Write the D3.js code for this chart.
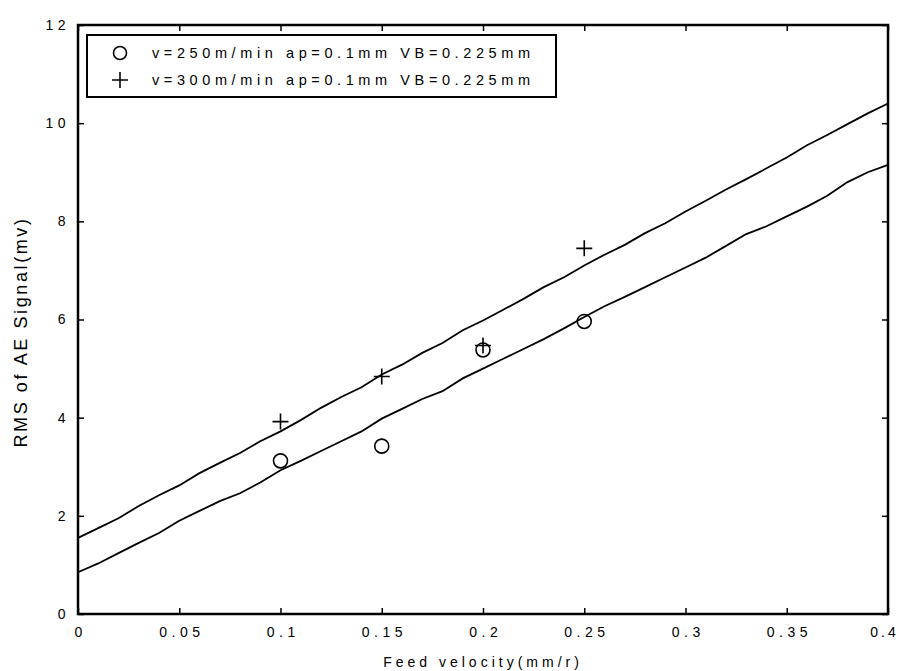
<!DOCTYPE html>
<html>
<head>
<meta charset="utf-8">
<script src="https://cdn.jsdelivr.net/npm/d3@7"></script>
<style>
  body { margin: 0; background: #fff; }
  text { font-family: "Liberation Sans", Arial, sans-serif; fill: #000; }
</style>
</head>
<body>
<div id="chart"></div>
<script>
// data
let xTicks = [0, 0.05, 0.1, 0.15, 0.2, 0.25, 0.3, 0.35, 0.4];
let xTickLabels = ["0", "0.05", "0.1", "0.15", "0.2", "0.25", "0.3", "0.35", "0.4"];
let yTicks = [0, 2, 4, 6, 8, 10, 12];

let feed = [0, 0.01, 0.02, 0.03, 0.04, 0.05, 0.06, 0.07, 0.08, 0.09, 0.1,
            0.11, 0.12, 0.13, 0.14, 0.15, 0.16, 0.17, 0.18, 0.19, 0.2,
            0.21, 0.22, 0.23, 0.24, 0.25, 0.26, 0.27, 0.28, 0.29, 0.3,
            0.31, 0.32, 0.33, 0.34, 0.35, 0.36, 0.37, 0.38, 0.39, 0.4];
let upperFit = [1.55, 1.75, 1.95, 2.2, 2.42, 2.62, 2.87, 3.08, 3.28, 3.52, 3.72,
                3.95, 4.2, 4.42, 4.62, 4.88, 5.08, 5.32, 5.52, 5.78, 5.98,
                6.2, 6.42, 6.66, 6.86, 7.1, 7.32, 7.52, 7.76, 7.96, 8.2,
                8.42, 8.65, 8.86, 9.08, 9.3, 9.55, 9.76, 9.98, 10.2, 10.4];
let lowerFit = [0.85, 1.03, 1.24, 1.45, 1.65, 1.9, 2.1, 2.3, 2.46, 2.68, 2.93,
                3.12, 3.32, 3.52, 3.72, 3.98, 4.18, 4.38, 4.54, 4.8, 5.0,
                5.2, 5.4, 5.6, 5.82, 6.05, 6.27, 6.46, 6.66, 6.86, 7.06,
                7.26, 7.5, 7.74, 7.9, 8.1, 8.3, 8.52, 8.8, 9.0, 9.15];

let pointFeed = [0.1, 0.15, 0.2, 0.25];
let rms250 = [3.12, 3.42, 5.38, 5.96];
let rms300 = [3.92, 4.84, 5.47, 7.45];

let legendLabels = ["v=250m/min ap=0.1mm VB=0.225mm", "v=300m/min ap=0.1mm VB=0.225mm"];

let W = 900, H = 671;
let mLeft = 78, mRight = 888, mTop = 25, mBottom = 614;

let svg = d3.select("#chart").append("svg")
    .attr("width", W).attr("height", H);

let x = d3.scaleLinear().domain([0, 0.4]).range([mLeft, mRight]);
let y = d3.scaleLinear().domain([0, 12]).range([mBottom, mTop]);

// axes with inward ticks
let tickLen = 6;
let fmtX = d => xTickLabels[xTicks.indexOf(d)];

let gx = svg.append("g").attr("transform", `translate(0,${mBottom})`)
    .call(d3.axisBottom(x).tickValues(xTicks).tickSizeInner(-tickLen).tickSizeOuter(0).tickPadding(13).tickFormat(fmtX));
svg.append("g").attr("transform", `translate(0,${mTop})`)
    .call(d3.axisTop(x).tickValues(xTicks).tickSizeInner(-tickLen).tickSizeOuter(0).tickFormat(""));
let gy = svg.append("g").attr("transform", `translate(${mLeft},0)`)
    .call(d3.axisLeft(y).tickValues(yTicks).tickSizeInner(-tickLen).tickSizeOuter(0).tickPadding(8));
svg.append("g").attr("transform", `translate(${mRight},0)`)
    .call(d3.axisRight(y).tickValues(yTicks).tickSizeInner(-tickLen).tickSizeOuter(0).tickFormat(""));

svg.selectAll(".domain").remove();
svg.selectAll(".tick line").attr("stroke", "#000").attr("stroke-width", 1.5);
svg.selectAll(".tick text")
    .style("font-size", "14px")
    .style("letter-spacing", "4.5px")
    .attr("fill", "#000");
// letter-spacing leaves a trailing gap; nudge labels to centre the glyphs
gx.selectAll(".tick text").attr("dx", "2.2px");
gx.selectAll(".tick text").filter(d => d === 0.4)
    .style("letter-spacing", "3px").attr("dx", "-4px");

svg.append("rect")
    .attr("x", mLeft).attr("y", mTop)
    .attr("width", mRight - mLeft).attr("height", mBottom - mTop)
    .attr("fill", "none").attr("stroke", "#000").attr("stroke-width", 2.5);

// fitted lines
let line = d3.line().x((d, i) => x(feed[i])).y(d => y(d));
[upperFit, lowerFit].forEach(s => {
  svg.append("path").datum(s)
    .attr("d", line)
    .attr("fill", "none").attr("stroke", "#000").attr("stroke-width", 1.8);
});

// markers
svg.selectAll(".c250").data(rms250).enter().append("circle")
    .attr("cx", (d, i) => x(pointFeed[i])).attr("cy", d => y(d))
    .attr("r", 7).attr("fill", "none").attr("stroke", "#000").attr("stroke-width", 1.6);

function plusPath(cx, cy, s) {
  return `M${cx - s},${cy}H${cx + s}M${cx},${cy - s}V${cy + s}`;
}
svg.selectAll(".p300").data(rms300).enter().append("path")
    .attr("d", (d, i) => plusPath(x(pointFeed[i]), y(d), 8))
    .attr("fill", "none").attr("stroke", "#000").attr("stroke-width", 1.6);

// legend
let lg = svg.append("g");
lg.append("rect")
    .attr("x", 87).attr("y", 35).attr("width", 469).attr("height", 62)
    .attr("fill", "#fff").attr("stroke", "#000").attr("stroke-width", 2);
lg.append("circle").attr("cx", 120).attr("cy", 53).attr("r", 6.5)
    .attr("fill", "none").attr("stroke", "#000").attr("stroke-width", 1.6);
lg.append("path").attr("d", plusPath(120, 80, 8))
    .attr("fill", "none").attr("stroke", "#000").attr("stroke-width", 1.6);
legendLabels.forEach((t, i) => {
  lg.append("text").attr("x", 152).attr("y", 58 + i * 27)
    .style("font-size", "14.5px").style("letter-spacing", "4.6px").text(t);
});

// axis titles
svg.append("text")
    .attr("x", 483).attr("y", 667)
    .attr("text-anchor", "middle")
    .style("font-size", "14px").style("letter-spacing", "4px")
    .text("Feed velocity(mm/r)");
svg.append("text")
    .attr("transform", `translate(27,332) rotate(-90)`)
    .attr("text-anchor", "middle")
    .style("font-size", "18px").style("letter-spacing", "2.6px")
    .text("RMS of AE Signal(mv)");
</script>
</body>
</html>
